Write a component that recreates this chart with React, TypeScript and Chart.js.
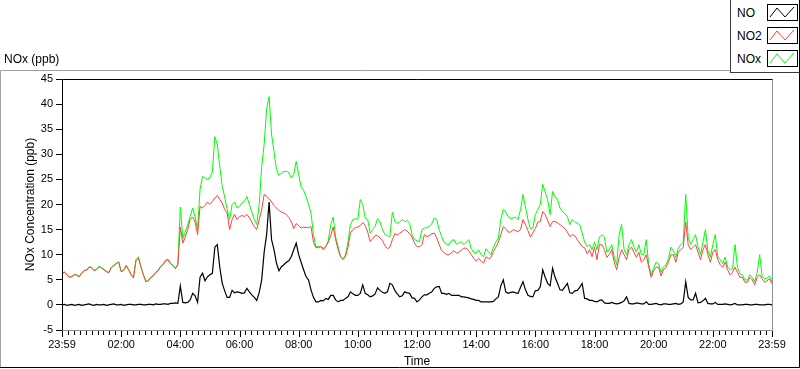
import React, { useEffect, useRef } from 'react';
import { Chart, registerables } from 'chart.js';

Chart.register(...registerables);

// ---------------- data ----------------
const SAMPLE_MINUTES = 5; // one value every 5 minutes, starting at 23:59
const X_TICK_HOURS = [0, 2, 4, 6, 8, 10, 12, 14, 16, 18, 20, 22, 24];
const X_TICK_LABELS = ['23:59', '02:00', '04:00', '06:00', '08:00', '10:00', '12:00', '14:00', '16:00', '18:00', '20:00', '22:00', '23:59'];
const X_MINOR_MINUTES = 12;
const Y_MIN = -5;
const Y_MAX = 45;
const Y_STEP = 5;

const SERIES_NAMES = ['NO', 'NO2', 'NOx'];
const SERIES_COLORS = ['#000000', '#ff4040', '#00ff00'];

const NO = [
  0.0, 0.1, -0.1, 0.0, 0.1, -0.1, 0.0, 0.1, -0.1, 0.0,
  0.1, 0.2, 0.0, -0.1, 0.1, 0.0, 0.0, 0.1, -0.1, 0.0,
  0.1, 0.2, 0.0, 0.0, 0.1, -0.1, 0.0, 0.1, 0.1, 0.0,
  0.0, 0.1, 0.1, 0.0, 0.0, 0.1, 0.1, 0.0, 0.2, 0.1,
  0.1, 0.2, 0.2, 0.1, 0.3, 0.3, 0.4, 0.3, 3.8, 0.5,
  0.4, 0.5, 1.0, 2.3, 1.8, 0.5, 5.5, 6.3, 4.8, 5.6,
  6.0, 6.3, 11.5, 12.0, 7.5, 4.3, 2.8, 1.5, 1.5, 2.9,
  2.4, 2.6, 2.5, 2.3, 2.4, 3.3, 2.6, 2.0, 1.5, 0.9,
  2.5, 5.0, 10.5, 14.0, 20.5, 13.0, 11.0, 8.3, 6.8, 7.6,
  8.0, 8.5, 8.8, 9.6, 11.0, 12.3, 10.0, 8.5, 7.0, 5.6,
  5.0, 3.0, 1.5, 0.6, 0.6, 0.9, 0.8, 1.3, 1.1, 1.9,
  1.9, 1.0, 0.6, 0.9, 0.9, 1.3, 1.6, 2.6, 2.2, 1.9,
  1.9, 2.3, 4.0, 2.3, 2.0, 1.6, 1.8, 2.2, 3.4, 2.9,
  2.5, 2.3, 2.6, 4.3, 4.0, 2.9, 2.2, 1.6, 1.8, 2.6,
  2.4, 2.3, 1.4, 1.3, 0.6, 1.0, 1.6, 2.0, 2.0, 2.3,
  2.6, 3.3, 3.6, 3.7, 2.3, 2.3, 2.1, 2.3, 1.9, 1.9,
  1.9, 1.9, 1.6, 1.6, 1.5, 1.4, 1.2, 1.1, 0.9, 0.9,
  0.6, 0.6, 0.6, 0.6, 0.6, 0.7, 1.2, 1.6, 3.8, 5.0,
  2.6, 2.3, 2.5, 2.6, 2.4, 2.3, 3.5, 4.6, 3.0, 1.9,
  1.7, 1.6, 2.8, 2.9, 3.6, 7.0, 5.5, 4.3, 3.8, 7.3,
  5.5, 4.3, 3.0, 2.9, 3.6, 4.3, 2.4, 2.3, 2.8, 2.9,
  3.5, 4.3, 1.3, 1.2, 0.9, 0.9, 0.7, 0.6, 0.9, 1.0,
  0.4, 0.3, 0.3, 0.5, 0.3, 0.2, 0.3, 0.5, 0.8, 1.6,
  0.3, 0.2, 0.2, 0.4, 0.3, 0.2, 0.2, 0.6, 0.1, 0.1,
  0.2, 0.3, 0.1, 0.0, 0.2, 0.2, 0.1, 0.1, 0.2, 0.3,
  0.1, 0.2, 0.6, 4.6, 1.5, 1.0, 1.0, 2.3, 0.4, 0.5,
  0.8, 1.3, 0.3, 0.2, 0.2, 0.5, 0.1, 0.1, 0.1, 0.2,
  0.1, 0.0, 0.1, 0.3, 0.0, 0.0, 0.0, 0.1, 0.1, 0.0,
  0.0, 0.1, 0.1, 0.0, 0.0, 0.0, 0.1, 0.1, 0.0,
];

const NO2 = [
  6.2, 6.5, 5.9, 5.5, 5.6, 6.0, 5.9, 5.6, 6.3, 6.8,
  6.9, 7.5, 7.4, 6.8, 7.0, 7.6, 7.3, 7.0, 6.6, 6.4,
  7.4, 7.8, 8.2, 8.5, 6.6, 6.8, 7.8, 7.0, 6.0, 5.4,
  8.8, 9.3, 7.6, 6.0, 4.6, 4.8, 5.4, 5.8, 6.4, 6.8,
  7.6, 8.0, 8.8, 9.0, 8.2, 7.8, 7.2, 8.0, 15.5, 12.3,
  13.5, 15.0, 17.0, 17.5, 16.5, 14.0, 19.6, 19.3, 19.8, 20.5,
  20.0, 20.6, 21.3, 21.8, 21.0, 20.3, 19.0, 18.3, 15.0, 17.0,
  18.0, 17.0, 17.6, 17.8, 17.6, 18.0, 17.4, 16.5, 15.6, 15.0,
  17.0, 19.0, 22.0, 21.6, 21.2, 20.5, 19.8, 19.3, 18.8, 18.5,
  18.3, 18.0, 17.4, 16.6, 15.2, 16.2, 15.8, 15.3, 15.5, 15.4,
  15.4, 15.6, 12.5, 11.4, 11.4, 11.6, 11.0, 11.6, 12.5, 13.8,
  15.5, 13.0, 11.0, 9.6, 9.0, 9.6, 11.5, 14.3, 15.0, 15.4,
  15.5, 15.8, 16.4, 15.8, 14.5, 12.6, 13.2, 13.8, 13.8, 13.3,
  12.8, 11.8, 11.2, 11.5, 13.0, 14.2, 13.9, 14.3, 14.6, 15.0,
  14.7, 14.2, 13.5, 12.3, 11.6, 11.6, 12.0, 14.0, 13.6, 13.8,
  14.2, 14.3, 13.4, 12.0, 10.8, 10.4, 10.0, 10.0, 10.4, 10.8,
  10.3, 10.5, 10.9, 11.3, 11.3, 10.8, 10.0, 9.3, 8.7, 9.2,
  8.8, 8.3, 9.6, 9.2, 9.4, 10.6, 11.5, 12.5, 14.0, 15.6,
  15.2, 14.5, 14.5, 15.0, 14.8, 14.6, 15.0, 17.0, 16.0, 14.8,
  13.5, 14.3, 15.2, 16.5, 16.6, 18.6, 18.0, 16.8, 15.6, 16.6,
  16.6, 16.3, 16.0, 15.6, 15.2, 14.5, 13.6, 14.0, 13.8, 13.0,
  12.3, 11.6, 11.4, 10.2, 11.0, 9.6, 11.5, 9.0, 12.0, 12.0,
  11.0, 9.5, 10.0, 11.0, 8.5, 7.0, 9.5, 11.0, 10.0, 9.0,
  11.0, 11.5, 10.5, 9.5, 10.5, 8.5, 9.0, 10.0, 7.5, 5.5,
  6.8, 7.5, 7.5, 5.8, 7.0, 7.5, 8.5, 10.0, 10.0, 8.5,
  10.5, 11.0, 11.5, 16.5, 12.0, 11.0, 11.5, 12.0, 10.5, 9.0,
  11.0, 12.0, 10.0, 8.5, 10.5, 11.0, 9.0, 8.0, 7.5, 8.5,
  7.0, 6.0, 6.5, 7.5, 6.5, 5.5, 5.5, 4.5, 4.5, 5.5,
  5.0, 4.0, 5.5, 6.0, 5.2, 4.5, 4.8, 5.2, 4.2,
];

const NOX = [
  6.3, 6.6, 6.0, 5.6, 5.7, 6.1, 6.0, 5.7, 6.4, 6.9,
  7.0, 7.6, 7.5, 6.9, 7.1, 7.7, 7.4, 7.1, 6.7, 6.5,
  7.5, 7.9, 8.3, 8.6, 6.7, 6.9, 7.9, 7.1, 6.1, 5.5,
  9.0, 9.6, 7.7, 6.1, 4.7, 4.9, 5.5, 5.9, 6.5, 6.9,
  7.7, 8.1, 8.9, 9.1, 8.3, 7.9, 7.3, 8.2, 19.5, 13.2,
  14.5, 16.0, 17.6, 19.3, 17.5, 15.0, 23.0, 25.6, 25.3, 25.0,
  25.4, 26.5, 33.5, 32.0, 27.5, 23.6, 21.5, 19.0, 17.0, 20.0,
  20.5, 19.3, 19.6, 20.3, 20.6, 21.6, 20.0, 18.5, 17.0, 16.0,
  20.0, 27.6, 32.0, 39.0, 41.5, 34.0, 30.5, 27.0, 25.8, 26.3,
  26.6, 26.6, 26.4, 25.3, 26.0, 28.6, 26.0, 23.5, 22.8, 21.6,
  20.0, 18.3, 14.0, 11.6, 11.6, 11.6, 11.3, 11.6, 12.8, 16.0,
  17.5, 13.5, 11.6, 9.6, 9.2, 10.0, 12.5, 16.0, 17.0, 17.2,
  17.0, 21.0, 20.0, 17.3, 17.0, 14.3, 15.0, 15.6, 17.2, 16.5,
  15.0, 14.0, 13.8, 13.6, 18.5, 16.6, 16.2, 16.5, 17.0, 16.6,
  16.8, 16.3, 14.0, 13.0, 12.8, 12.6, 15.0, 15.3, 15.4, 15.6,
  16.2, 17.3, 17.0, 15.0, 13.6, 12.5, 12.1, 12.0, 12.8, 13.0,
  12.1, 12.3, 12.6, 12.0, 12.5, 13.0, 11.2, 10.5, 10.3, 11.0,
  10.0, 9.6, 11.2, 10.6, 10.0, 11.5, 12.5, 13.3, 17.0, 19.0,
  18.5, 17.6, 17.2, 17.3, 17.5, 17.0, 19.0, 22.0, 19.5, 17.0,
  15.2, 15.3, 18.0, 19.0, 20.0, 24.0, 22.5, 21.0, 18.0, 22.6,
  21.5, 21.0, 19.3, 18.6, 18.2, 17.6, 16.0, 17.0, 16.5, 16.3,
  16.0, 14.3, 12.5, 11.6, 12.0, 11.0, 12.5, 11.0, 13.5, 14.0,
  13.5, 10.5, 11.0, 12.0, 9.5, 8.0, 14.0, 16.0, 11.0, 10.0,
  12.0, 13.0, 11.5, 10.5, 12.0, 10.0, 10.0, 13.0, 8.0, 6.0,
  7.3, 8.5, 8.2, 6.5, 7.6, 8.0, 9.2, 11.5, 10.8, 9.5,
  11.3, 12.0, 12.5, 22.0, 13.5, 12.0, 13.0, 14.0, 11.5, 10.0,
  12.5, 15.0, 10.8, 9.5, 12.0, 14.0, 9.6, 9.0, 8.2, 9.5,
  7.6, 7.0, 7.2, 12.0, 7.5, 6.2, 6.0, 5.0, 4.9, 6.0,
  5.5, 4.6, 6.5, 10.0, 5.7, 5.2, 5.3, 5.8, 4.6,
];

const SERIES_VALUES = [NO, NO2, NOX];

const AXIS_TITLE_X = 'Time';
const AXIS_TITLE_Y = 'NOx Concentration (ppb)';
const PLOT_NAME = 'NOx (ppb)';

// ---------------- chart ----------------
const FONT = "'Liberation Sans', Arial, sans-serif";

const framePlugin = {
  id: 'lvFrame',
  beforeDraw(chart: any) {
    const { ctx } = chart;
    ctx.save();
    ctx.fillStyle = '#ffffff';
    ctx.fillRect(0, 0, chart.width, chart.height);
    ctx.lineWidth = 1;
    ctx.strokeStyle = '#a0a0a0';
    ctx.beginPath();
    ctx.moveTo(0.5, 368);
    ctx.lineTo(0.5, 70.5);
    ctx.lineTo(731, 70.5);
    ctx.stroke();
    ctx.strokeStyle = '#000000';
    ctx.beginPath();
    ctx.moveTo(0, 367.5);
    ctx.lineTo(799.5, 367.5);
    ctx.lineTo(799.5, 0);
    ctx.stroke();
    ctx.restore();
  },
  afterDraw(chart: any) {
    const { ctx, chartArea: a } = chart;
    const xs = chart.scales.x;
    const L = Math.round(a.left) + 0.5;
    const T = Math.round(a.top) + 0.5;
    const R = Math.round(a.right) + 0.5;
    const B = Math.round(a.bottom) + 0.5;
    ctx.save();
    ctx.lineWidth = 1;
    ctx.strokeStyle = '#909090';
    ctx.beginPath();
    ctx.moveTo(L, B);
    ctx.lineTo(R, B);
    ctx.lineTo(R, T);
    ctx.stroke();
    ctx.strokeStyle = '#000000';
    ctx.beginPath();
    ctx.moveTo(L, B);
    ctx.lineTo(L, T);
    ctx.lineTo(R, T);
    ctx.stroke();
    ctx.beginPath();
    for (let m = 0; m <= 24 * 60; m += X_MINOR_MINUTES) {
      const px = Math.round(xs.getPixelForValue(m / 60)) + 0.5;
      const major = m % 120 === 0;
      ctx.moveTo(px, Math.round(a.bottom) + 1);
      ctx.lineTo(px, Math.round(a.bottom) + (major ? 7 : 5));
    }
    ctx.stroke();
    ctx.restore();
  },
};

function LegendIcon({ color, top }: { color: string; top: number }) {
  return (
    <svg width={31} height={17} style={{ position: 'absolute', left: 36, top }}>
      <rect x={0.5} y={0.5} width={30} height={16} fill="#ffffff" stroke="#000000" />
      <polyline points="3,13 10,4 18,13 27,3" fill="none" stroke={color} strokeWidth={1} />
    </svg>
  );
}

export default function App() {
  const ref = useRef<HTMLCanvasElement | null>(null);

  useEffect(() => {
    const canvas = ref.current;
    if (!canvas) return;
    const datasets = SERIES_NAMES.map((name, s) => ({
      label: name,
      data: SERIES_VALUES[s].map((v, i) => ({ x: (i * SAMPLE_MINUTES) / 60, y: v })),
      borderColor: SERIES_COLORS[s],
      backgroundColor: SERIES_COLORS[s],
      borderWidth: s === 0 ? 1.2 : 1,
      pointRadius: 0,
      tension: 0,
      fill: false,
    }));
    const chart = new Chart(canvas, {
      type: 'line',
      data: { datasets },
      options: {
        animation: false,
        responsive: false,
        devicePixelRatio: 1,
        layout: { padding: { left: 0, top: 79, right: 28, bottom: 0 } },
        plugins: { legend: { display: false }, tooltip: { enabled: false } },
        scales: {
          x: {
            type: 'linear',
            min: X_TICK_HOURS[0],
            max: X_TICK_HOURS[X_TICK_HOURS.length - 1],
            afterFit: (s: any) => { s.height = 39; },
            afterBuildTicks: (s: any) => { s.ticks = X_TICK_HOURS.map((v) => ({ value: v })); },
            ticks: {
              autoSkip: false,
              maxRotation: 0,
              minRotation: 0,
              padding: 8,
              color: '#000000',
              font: { family: FONT, size: 11 },
              callback: (v: any) => {
                const idx = X_TICK_HOURS.indexOf(Number(v));
                return idx >= 0 ? X_TICK_LABELS[idx] : '';
              },
            },
            grid: { display: false, drawTicks: false },
            border: { display: false },
            title: { display: true, text: AXIS_TITLE_X, color: '#000000', font: { family: FONT, size: 12 }, padding: 0 },
          },
          y: {
            min: Y_MIN,
            max: Y_MAX,
            afterFit: (s: any) => { s.width = 62; },
            ticks: { stepSize: Y_STEP, padding: 3, color: '#000000', font: { family: FONT, size: 11 } },
            grid: { drawOnChartArea: false, drawTicks: true, tickLength: 6, tickColor: '#000000', color: '#000000' },
            border: { display: false },
            title: { display: true, text: AXIS_TITLE_Y, color: '#000000', font: { family: FONT, size: 12 }, padding: { top: 23, bottom: 0 } },
          },
        },
      },
      plugins: [framePlugin],
    } as any);
    return () => chart.destroy();
  }, []);

  const textStyle: React.CSSProperties = {
    position: 'absolute',
    fontFamily: FONT,
    fontSize: 12,
    lineHeight: '14px',
    color: '#000000',
    whiteSpace: 'nowrap',
  };

  return (
    <div style={{ position: 'fixed', left: 0, top: 0, width: 800, height: 369, background: '#ffffff', overflow: 'hidden' }}>
      <canvas ref={ref} width={800} height={369} style={{ position: 'absolute', left: 0, top: 0, width: 800, height: 369 }} />
      <div style={{ ...textStyle, left: 4, top: 52 }}>{PLOT_NAME}</div>
      <div
        style={{
          position: 'absolute',
          left: 730,
          top: 0,
          width: 70,
          height: 73,
          boxSizing: 'border-box',
          borderLeft: '1px solid #3a3a3a',
          borderBottom: '1px solid #3a3a3a',
          borderRight: '1px solid #000000',
          background: '#ffffff',
        }}
      >
        {SERIES_NAMES.map((name, s) => (
          <React.Fragment key={name}>
            <div style={{ ...textStyle, left: 6, top: 6 + s * 23 }}>{name}</div>
            <LegendIcon color={SERIES_COLORS[s]} top={4 + s * 23} />
          </React.Fragment>
        ))}
      </div>
    </div>
  );
}
